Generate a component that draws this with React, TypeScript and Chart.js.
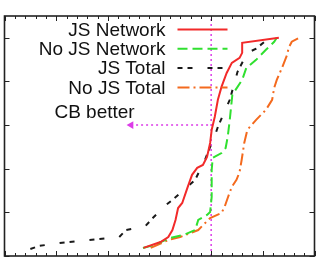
import React, { useEffect, useRef } from "react";
import { Chart, registerables } from "chart.js";

Chart.register(...registerables);

// ---- data (x axis 0..6, y = cumulative fraction) ----
const seriesLabels = ["JS Network", "No JS Network", "JS Total", "No JS Total"];

const jsNetX = [2.69, 3.02, 3.17, 3.25, 3.31, 3.36, 3.44, 3.54, 3.63, 3.73, 3.84, 3.92, 3.98, 4.01, 4.07, 4.13, 4.2, 4.3, 4.4, 4.55, 4.6, 4.6, 5.31];
const jsNetY = [0.037, 0.064, 0.087, 0.119, 0.165, 0.22, 0.243, 0.312, 0.372, 0.404, 0.417, 0.454, 0.518, 0.578, 0.638, 0.716, 0.775, 0.839, 0.885, 0.908, 0.931, 0.977, 1.0];

const noJsNetX = [2.68, 2.89, 3.21, 3.46, 3.69, 3.75, 3.92, 3.98, 4.01, 4.01, 4.03, 4.2, 4.28, 4.32, 4.36, 4.41, 4.6, 4.68, 4.87, 5.06, 5.22, 5.27];
const noJsNetY = [0.037, 0.05, 0.083, 0.096, 0.119, 0.165, 0.188, 0.202, 0.271, 0.394, 0.45, 0.472, 0.495, 0.546, 0.624, 0.739, 0.807, 0.862, 0.899, 0.945, 0.982, 1.0];

const jsTotalX = [0.5, 0.67, 1.07, 1.26, 1.64, 1.84, 2.22, 2.35, 2.73, 2.87, 3.08, 3.25, 3.54, 3.69, 3.88, 3.94, 4.07, 4.13, 4.36, 4.51, 4.7, 4.87, 5.12];
const jsTotalY = [0.032, 0.046, 0.06, 0.064, 0.073, 0.078, 0.087, 0.119, 0.138, 0.174, 0.225, 0.257, 0.317, 0.349, 0.44, 0.477, 0.55, 0.592, 0.716, 0.844, 0.931, 0.95, 1.0];

const noJsTotalX = [2.83, 3.17, 3.4, 3.75, 3.98, 4.2, 4.26, 4.32, 4.4, 4.49, 4.55, 4.59, 4.64, 4.7, 4.87, 5.06, 5.18, 5.22, 5.27, 5.37, 5.47, 5.5, 5.56, 5.7];
const noJsTotalY = [0.037, 0.073, 0.087, 0.119, 0.174, 0.197, 0.225, 0.266, 0.317, 0.349, 0.385, 0.44, 0.518, 0.578, 0.624, 0.67, 0.716, 0.771, 0.807, 0.862, 0.922, 0.954, 0.982, 1.0];

// axis ticks
const xMajorTicks = [0, 1, 2, 3, 4, 5, 6];
const xMinorTicks = [0.2, 0.4, 0.6, 0.8, 1.2, 1.4, 1.6, 1.8, 2.2, 2.4, 2.6, 2.8, 3.2, 3.4, 3.6, 3.8, 4.2, 4.4, 4.6, 4.8, 5.2, 5.4, 5.6, 5.8];
const yMajorTicks = [0, 0.2, 0.4, 0.6, 0.8, 1.0];

// annotation: threshold and "CB better" arrow
const thresholdX = 4.0;
const arrowFromX = 4.0;
const arrowToX = 2.45;
const arrowY = 0.6;
const annotationLabel = "CB better";
const annotationLabelX = 2.52;
const annotationLabelY = 0.655;

const FONT = '19px "Liberation Sans", Arial, sans-serif';
const MAGENTA = "#dc3ce8";

function pts(xs: number[], ys: number[]) {
  return xs.map((x, i) => ({ x, y: ys[i] }));
}

const framePlugin = {
  id: "frameAndLegend",
  afterDatasetsDraw(chart: any) {
    const { ctx, chartArea, scales } = chart;
    const xs = scales.x;
    const ys = scales.y;
    const { left, right, top, bottom } = chartArea;
    ctx.save();
    // ticks (inside, all four sides)
    ctx.strokeStyle = "#222";
    ctx.lineWidth = 1;
    ctx.setLineDash([]);
    const vtick = (v: number, len: number) => {
      const p = Math.round(xs.getPixelForValue(v)) + 0.5;
      ctx.beginPath();
      ctx.moveTo(p, bottom);
      ctx.lineTo(p, bottom - len);
      ctx.moveTo(p, top);
      ctx.lineTo(p, top + len);
      ctx.stroke();
    };
    xMajorTicks.forEach((v) => vtick(v, 5));
    xMinorTicks.forEach((v) => vtick(v, 3));
    yMajorTicks.forEach((v) => {
      const p = Math.round(ys.getPixelForValue(v)) + 0.5;
      ctx.beginPath();
      ctx.moveTo(left, p);
      ctx.lineTo(left + 5, p);
      ctx.moveTo(right, p);
      ctx.lineTo(right - 5, p);
      ctx.stroke();
    });
    // frame
    ctx.lineWidth = 1.6;
    ctx.strokeStyle = "#222";
    ctx.strokeRect(left, top, right - left, bottom - top);

    // annotation text
    ctx.font = FONT;
    ctx.fillStyle = "#111";
    ctx.textAlign = "right";
    ctx.textBaseline = "middle";
    ctx.fillText(annotationLabel, xs.getPixelForValue(annotationLabelX), ys.getPixelForValue(annotationLabelY));

    // legend (text right-aligned, line sample on the right)
    const textRight = left + 161;
    const sampleL = left + 173;
    const sampleR = left + 223;
    const rowTop = top + 13.5;
    const rowStep = 19.3;
    chart.data.datasets.forEach((ds: any, i: number) => {
      if (!ds.inLegend) return;
      const y = rowTop + i * rowStep;
      ctx.fillStyle = "#111";
      ctx.fillText(ds.label, textRight, y + 1);
      ctx.strokeStyle = ds.borderColor;
      ctx.lineWidth = ds.borderWidth;
      ctx.setLineDash(ds.borderDash || []);
      ctx.beginPath();
      ctx.moveTo(sampleL, y);
      ctx.lineTo(sampleR, y);
      ctx.stroke();
    });
    ctx.restore();
  },
};

export default function App() {
  const ref = useRef<HTMLCanvasElement | null>(null);

  useEffect(() => {
    if (!ref.current) return;
    const common = { pointRadius: 0, tension: 0, fill: false, borderWidth: 2 };
    const chart = new Chart(ref.current, {
      type: "line",
      data: {
        datasets: [
          { ...common, label: seriesLabels[0], inLegend: true, data: pts(jsNetX, jsNetY), borderColor: "#f22a2a", borderDash: [] },
          { ...common, label: seriesLabels[1], inLegend: true, data: pts(noJsNetX, noJsNetY), borderColor: "#30e030", borderDash: [10, 5] },
          { ...common, label: seriesLabels[2], inLegend: true, data: pts(jsTotalX, jsTotalY), borderColor: "#1a1a1a", borderDash: [5, 5, 5, 15] },
          { ...common, label: seriesLabels[3], inLegend: true, data: pts(noJsTotalX, noJsTotalY), borderColor: "#f46a1e", borderDash: [12, 4, 2, 4] },
          {
            label: "threshold",
            data: [
              { x: thresholdX, y: 0 },
              { x: thresholdX, y: 1.1 },
            ],
            borderColor: MAGENTA,
            borderWidth: 1.5,
            borderDash: [2, 3],
            pointRadius: 0,
          },
          {
            label: "arrow",
            data: [
              { x: arrowToX, y: arrowY },
              { x: arrowFromX, y: arrowY },
            ],
            borderColor: MAGENTA,
            backgroundColor: MAGENTA,
            borderWidth: 1.5,
            borderDash: [2, 3],
            pointStyle: "triangle",
            rotation: -90,
            pointRadius: [4.5, 0],
            pointBorderWidth: 0,
          },
        ] as any,
      },
      options: {
        animation: false,
        responsive: false,
        maintainAspectRatio: false,
        layout: { padding: { left: 2, top: 16, right: 3, bottom: 8 } },
        plugins: { legend: { display: false }, tooltip: { enabled: false } },
        scales: {
          x: { type: "linear", min: 0, max: 6, display: false },
          y: { type: "linear", min: 0, max: 1.1, display: false },
        },
      },
      plugins: [framePlugin],
    });
    return () => chart.destroy();
  }, []);

  return (
    <div style={{ position: "absolute", left: 0, top: 0, width: 319, height: 264, background: "#fff" }}>
      <canvas ref={ref} width={319} height={264} style={{ display: "block" }} />
    </div>
  );
}
